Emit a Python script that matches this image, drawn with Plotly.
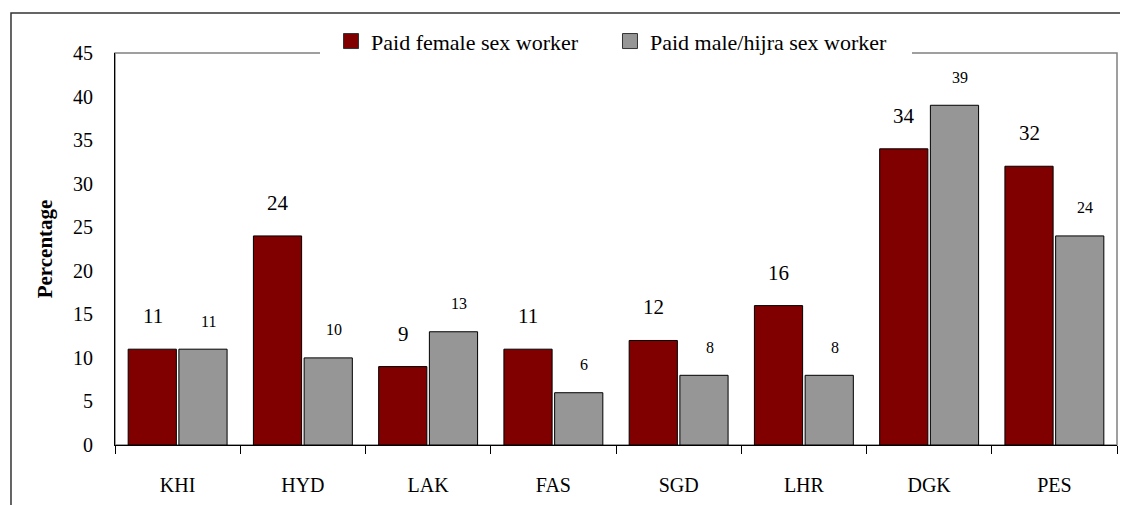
import plotly.graph_objects as go

categories = ["KHI", "HYD", "LAK", "FAS", "SGD", "LHR", "DGK", "PES"]
female = [11, 24, 9, 11, 12, 16, 34, 32]
male_hijra = [11, 10, 13, 6, 8, 8, 39, 24]
series_names = ["Paid female sex worker", "Paid male/hijra sex worker"]
y_ticks = [0, 5, 10, 15, 20, 25, 30, 35, 40, 45]

FONT = "Liberation Serif"
RED = "#800000"
GRAY = "#969696"

fig = go.Figure()
fig.add_trace(go.Bar(name=series_names[0], x=categories, y=female, showlegend=False,
                     marker=dict(color=RED, line=dict(color="black", width=1))))
fig.add_trace(go.Bar(name=series_names[1], x=categories, y=male_hijra, showlegend=False,
                     marker=dict(color=GRAY, line=dict(color="black", width=1))))
# legend-only entries (larger square swatches)
for name, col, lg in [(series_names[0], RED, "legend"), (series_names[1], GRAY, "legend2")]:
    fig.add_trace(go.Scatter(name=name, x=[None], y=[None], mode="markers", legend=lg,
                             marker=dict(symbol="square", size=15, color=col,
                                         line=dict(color="#333333", width=1))))

annotations = []
for c, v in zip(categories, female):
    annotations.append(dict(x=c, y=v, xref="x", yref="y", text=str(v), showarrow=False,
                            xshift=-25, yshift=33, font=dict(family=FONT, size=21, color="black")))
for c, v in zip(categories, male_hijra):
    annotations.append(dict(x=c, y=v, xref="x", yref="y", text=str(v), showarrow=False,
                            xshift=31, yshift=28, font=dict(family=FONT, size=16, color="black")))

legend_common = dict(orientation="h", y=1.03, yanchor="middle", xanchor="left",
                     bgcolor="rgba(0,0,0,0)", font=dict(family=FONT, size=22, color="black"),
                     itemwidth=30)

fig.update_layout(
    width=1120, height=497,
    margin=dict(l=107, r=11, t=45, b=60, autoexpand=False),
    paper_bgcolor="white", plot_bgcolor="white",
    barmode="group", bargap=0.19, bargroupgap=0.05,
    font=dict(family=FONT, size=20, color="black"),
    showlegend=True,
    legend=dict(x=0.2156, **legend_common),
    legend2=dict(x=0.494, **legend_common),
    annotations=annotations,
    shapes=[
        dict(type="rect", xref="paper", yref="paper", x0=0, x1=1, y0=0, y1=1,
             line=dict(color="#808080", width=1.5), layer="below"),
        dict(type="rect", xref="paper", yref="paper", x0=-0.1038, x1=1.3, y0=-0.5, y1=1.102,
             line=dict(color="#333333", width=1.5), layer="below"),
        dict(type="rect", xref="paper", yref="paper", x0=0.2046, x1=0.7954, y0=0.985, y1=1.015,
             fillcolor="white", line=dict(width=0), layer="above"),
    ],
)
fig.update_xaxes(showline=True, linecolor="black", linewidth=1, ticks="outside",
                 tickson="boundaries", ticklen=8, tickcolor="black", automargin=False,
                 ticklabelstandoff=22,
                 tickfont=dict(family=FONT, size=20), showgrid=False)
fig.update_yaxes(range=[0, 45], tickvals=y_ticks, showline=True, linecolor="black",
                 linewidth=1, showgrid=False, zeroline=False, ticks="", automargin=False,
                 ticklabelstandoff=17,
                 tickfont=dict(family=FONT, size=20),
                 title=dict(text="<b>Percentage</b>", font=dict(family=FONT, size=21), standoff=14))

fig.write_html("out.html")
